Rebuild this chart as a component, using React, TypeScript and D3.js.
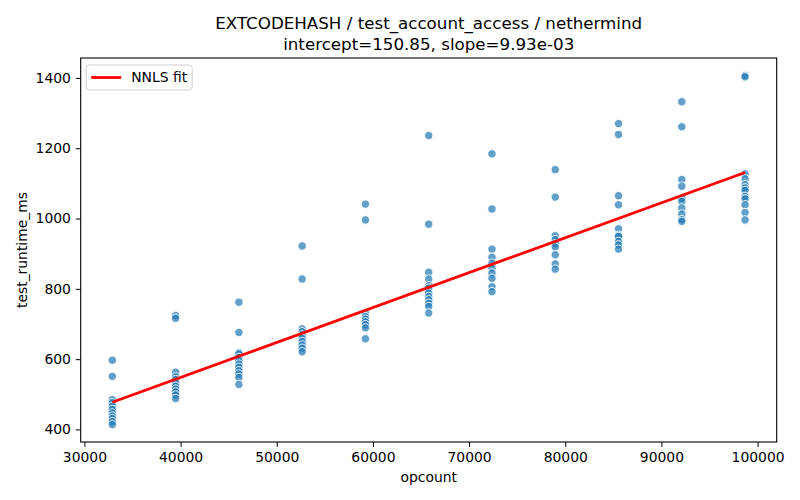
import React, { useEffect, useRef } from 'react';
import * as d3 from 'd3';

// opcount levels and the runtimes measured at each level
const opcounts = [32900, 39480, 46060, 52640, 59220, 65800, 72380, 78960, 85540, 92120, 98700];
const runtimes: number[][] = [
  [597, 551, 485, 476, 466, 457, 447, 438, 431, 422, 414],
  [724, 716, 563, 550, 542, 533, 523, 515, 507, 498, 488],
  [762, 676, 619, 615, 605, 596, 586, 577, 567, 558, 548, 528],
  [922, 828, 686, 678, 669, 659, 650, 640, 631, 621],
  [1041, 996, 731, 721, 714, 706, 698, 689, 658],
  [1236, 984, 847, 828, 809, 802, 788, 778, 769, 759, 750, 731],
  [1184, 1027, 913, 890, 873, 859, 845, 830, 806, 792],
  [1139, 1061, 951, 940, 928, 919, 897, 871, 856],
  [1270, 1239, 1065, 1039, 971, 952, 949, 935, 925, 913],
  [1332, 1261, 1111, 1092, 1058, 1049, 1030, 1013, 997, 992],
  [1407, 1403, 1127, 1113, 1096, 1087, 1080, 1063, 1056, 1039, 1017, 996],
];
const intercept = 150.85;
const slope = 9.93e-3;
const xTicks = [30000, 40000, 50000, 60000, 70000, 80000, 90000, 100000];
const yTicks = [400, 600, 800, 1000, 1200, 1400];

const font = "'DejaVu Sans', sans-serif";

const App: React.FC = () => {
  const svgRef = useRef<SVGSVGElement>(null);

  useEffect(() => {
    if (!svgRef.current) return;
    const W = 800, H = 500;
    const margin = { top: 58, right: 23.3, bottom: 58, left: 80.7 };
    const width = W - margin.left - margin.right;
    const height = H - margin.top - margin.bottom;

    const points = opcounts.flatMap((x, i) => runtimes[i].map(y => ({ x, y })));

    const root = d3.select(svgRef.current);
    root.selectAll('*').remove();
    root.attr('width', W).attr('height', H);

    root.append('rect').attr('width', W).attr('height', H).attr('fill', 'white');

    const svg = root.append('g').attr('transform', `translate(${margin.left},${margin.top})`);

    const xMin = d3.min(opcounts)!, xMax = d3.max(opcounts)!;
    const xPad = (xMax - xMin) * 0.05;
    const x = d3.scaleLinear().domain([xMin - xPad, xMax + xPad]).range([0, width]);
    const yMin = d3.min(points, d => d.y)!, yMax = d3.max(points, d => d.y)!;
    const yPad = (yMax - yMin) * 0.05;
    const y = d3.scaleLinear().domain([yMin - yPad, yMax + yPad]).range([height, 0]);

    svg.selectAll('circle')
      .data(points)
      .enter()
      .append('circle')
      .attr('cx', d => x(d.x))
      .attr('cy', d => y(d.y))
      .attr('r', 4.2)
      .attr('fill', '#1f77b4')
      .attr('fill-opacity', 0.7)
      .attr('stroke', 'white')
      .attr('stroke-width', 0.9);

    const line = d3.line<number>().x(d => x(d)).y(d => y(intercept + slope * d));
    svg.append('path')
      .datum([xMin, xMax])
      .attr('d', line)
      .attr('stroke', 'red')
      .attr('stroke-width', 2.8)
      .attr('fill', 'none');

    const xAxis = svg.append('g')
      .attr('transform', `translate(0,${height})`)
      .call(d3.axisBottom(x).tickValues(xTicks).tickFormat(d3.format('d')).tickSize(4.9).tickPadding(4.9));
    const yAxis = svg.append('g')
      .call(d3.axisLeft(y).tickValues(yTicks).tickFormat(d3.format('d')).tickSize(4.9).tickPadding(4.9));
    [xAxis, yAxis].forEach(a => {
      a.select('.domain').remove();
      a.selectAll('line').attr('stroke', 'black').attr('stroke-width', 1);
      a.selectAll('text').attr('fill', 'black').style('font-family', font).style('font-size', '13.9px');
    });

    svg.append('rect')
      .attr('width', width).attr('height', height)
      .attr('fill', 'none').attr('stroke', 'black').attr('stroke-width', 1.1);

    // legend
    const lg = svg.append('g').attr('transform', 'translate(5.5,7)');
    lg.append('rect')
      .attr('width', 106).attr('height', 25).attr('rx', 3)
      .attr('fill', 'white').attr('fill-opacity', 0.8)
      .attr('stroke', '#d0d0d0').attr('stroke-width', 1);
    lg.append('line').attr('x1', 5).attr('x2', 35).attr('y1', 12.5).attr('y2', 12.5)
      .attr('stroke', 'red').attr('stroke-width', 2.8);
    lg.append('text').attr('x', 45).attr('y', 17.3).text('NNLS fit')
      .style('font-family', font).style('font-size', '13.9px');

    // titles and axis labels
    const cx = margin.left + width / 2;
    root.append('text').attr('x', cx).attr('y', 29).attr('text-anchor', 'middle')
      .style('font-family', font).style('font-size', '16.7px')
      .text('EXTCODEHASH / test_account_access / nethermind');
    root.append('text').attr('x', cx).attr('y', 50).attr('text-anchor', 'middle')
      .style('font-family', font).style('font-size', '16.7px')
      .text('intercept=150.85, slope=9.93e-03');
    root.append('text').attr('x', cx).attr('y', 482).attr('text-anchor', 'middle')
      .style('font-family', font).style('font-size', '13.9px')
      .text('opcount');
    root.append('text')
      .attr('transform', `translate(27,${margin.top + height / 2}) rotate(-90)`)
      .attr('text-anchor', 'middle')
      .style('font-family', font).style('font-size', '13.9px')
      .text('test_runtime_ms');
  }, []);

  return <svg ref={svgRef} style={{ position: 'absolute', left: 0, top: 0 }} />;
};

export default App;
